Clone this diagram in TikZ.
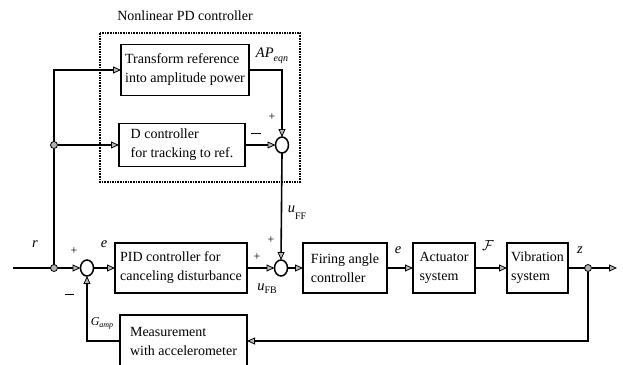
\documentclass[tikz,border=0pt]{standalone}
\usepackage{fontspec}
\setmainfont{Liberation Serif}
\usetikzlibrary{arrows.meta,shapes.geometric,positioning}
\newcommand{\lowsub}[2]{\raisebox{#1}{\fontsize{10}{11}\selectfont #2}}
\begin{document}
\begin{tikzpicture}[x=1pt,y=-1pt,
  every node/.style={inner sep=0pt, outer sep=0pt},
  blk/.style={draw, line width=1.6pt, align=left, font=\fontsize{14}{19}\selectfont},
  sumj/.style={draw, ellipse, line width=1.5pt, minimum width=13pt, minimum height=16pt},
  jdot/.style={circle, fill=gray!60, draw=black, line width=0.8pt, minimum size=7pt},
  sig/.style={line width=1.6pt, -{Triangle[length=8pt,width=7pt,fill=gray!55,line width=0.8pt]}},
  ln/.style={line width=1.6pt},
  lbl/.style={font=\fontsize{14.5}{16}\selectfont},
  sgn/.style={font=\fontsize{12}{13}\selectfont}
]
\useasboundingbox (0,0) rectangle (623,364);

% dotted frame and title
\draw[line width=1.6pt, densely dotted] (100,33) rectangle (300,182);
\node[font=\fontsize{14}{16}\selectfont] (title) at (185,16) {Nonlinear PD controller};

% blocks
\node[blk, minimum width=128pt, minimum height=51pt] (T) at (185,70) {Transform reference\\into amplitude power};
\node[blk, minimum width=126pt, minimum height=43pt] (D) at (182,145) {D controller\\for tracking to ref.};
\node[blk, minimum width=132pt, minimum height=50pt] (PID) at (181,268) {PID controller for\\canceling disturbance};
\node[blk, minimum width=84pt, minimum height=50pt] (FA) at (345,268) {Firing angle\\controller};
\node[blk, minimum width=62pt, minimum height=50pt] (AS) at (444,268) {Actuator\\system};
\node[blk, minimum width=61pt, minimum height=50pt] (VS) at (537.5,268) {Vibration\\system};
\node[blk, minimum width=127pt, minimum height=52pt] (M) at (183.5,341) {Measurement\\with accelerometer};

% summing junctions
\node[sumj] (S3) at (282,145) {};
\node[sumj] (S1) at (87,268) {};
\node[sumj] (S2) at (281,268) {};

% branch dots
\node[jdot] (D1) at (54,145) {};
\node[jdot] (D2) at (54,268) {};
\node[jdot] (D3) at (588,268) {};
\coordinate (in) at (13,268);
\coordinate (out) at (617,268);

% connectors
\draw[ln] (in) -- (D2);
\draw[sig] (D2) -- (S1);
\draw[ln] (D2) -- (D1);
\draw[sig] (D1) |- (T.west);
\draw[sig] (D1) -- (D.west);
\draw[sig] (T.east) -| (S3.north);
\draw[sig] (D.east) -- (S3.west);
\draw[sig] (S3.south) -- (S2.north);
\draw[sig] (S1.east) -- (PID.west);
\draw[sig] (PID.east) -- (S2.west);
\draw[sig] (S2.east) -- (FA.west);
\draw[sig] (FA.east) -- (AS.west);
\draw[sig] (AS.east) -- (VS.west);
\draw[ln] (VS.east) -- (D3);
\draw[sig] (D3) -- (out);
\draw[sig] (D3) |- (M.east);
\draw[sig] (M.west) -| (S1.south);

% labels
\node[lbl] (lAP) at (272,56) {\textit{AP}\lowsub{-4pt}{\textit{eqn}}};
\node[lbl] (lr) at (35,244) {\textit{r}};
\node[lbl] (le1) at (104,244) {\textit{e}};
\node[lbl] (lufb) at (267,289) {\textit{u}\lowsub{-3pt}{FB}};
\node[lbl] (luff) at (297,213) {\textit{u}\lowsub{-7pt}{FF}};
\node[lbl] (le2) at (398,250) {\textit{e}};
\node[lbl] (lF) at (488,246) {$\mathcal{F}$};
\node[lbl] (lz) at (580,250) {\textit{z}};
\node[font=\fontsize{12}{13}\selectfont] (lG) at (102,323) {\textit{G}\raisebox{-2pt}{\fontsize{8}{9}\selectfont\textit{amp}}};

% signs
\node[sgn] (p1) at (74,251) {+};
\node[sgn] (m1) at (69,294) {\rule{9pt}{1pt}};
\node[sgn] (p2) at (257,257) {+};
\node[sgn] (p3) at (271,240) {+};
\node[sgn] (p4) at (272,117) {+};
\node[sgn] (m2) at (256,133) {\rule{10pt}{1pt}};
\end{tikzpicture}
\end{document}
